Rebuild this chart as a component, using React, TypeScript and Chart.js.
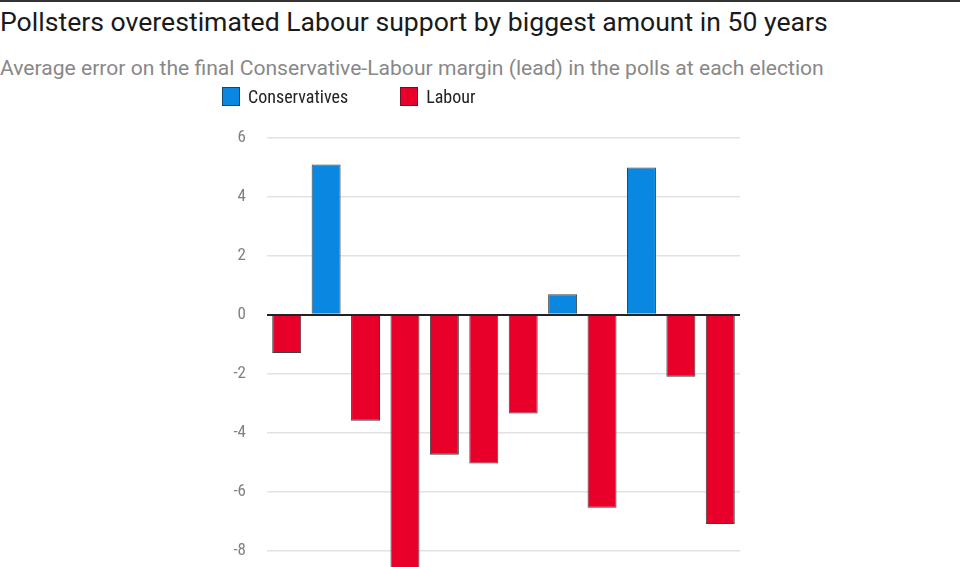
import React, { useEffect, useRef } from "react";
import { Chart, registerables } from "chart.js";

Chart.register(...registerables);

const elections = ["1979", "1983", "1987", "1992", "1997", "2001", "2005", "2010", "2015", "2017", "2019", "2024"];
const conservativeErrors: (number | null)[] = [null, 5.1, null, null, null, null, null, 0.7, null, 5.0, null, null];
const labourErrors: (number | null)[] = [-1.3, null, -3.6, -8.7, -4.75, -5.05, -3.35, null, -6.55, null, -2.1, -7.1];
const yTicks = [6, 4, 2, 0, -2, -4, -6, -8];

const BLUE = "#0a87e0";
const RED = "#e8002b";
const NARROW = '"Liberation Sans Narrow", "Roboto Condensed", Roboto, sans-serif';

export default function App() {
  const ref = useRef<HTMLCanvasElement>(null);
  useEffect(() => {
    document.body.style.margin = "0";
    const chart = new Chart(ref.current!, {
      type: "bar",
      data: {
        labels: elections,
        datasets: [
          { label: "Conservatives", data: conservativeErrors, backgroundColor: BLUE, borderColor: "rgba(30,30,30,0.85)", borderWidth: 1 },
          { label: "Labour", data: labourErrors, backgroundColor: RED, borderColor: "rgba(30,30,30,0.85)", borderWidth: 1 },
        ],
      },
      options: {
        animation: false,
        responsive: false,
        maintainAspectRatio: false,
        layout: { padding: { left: 0, right: 220, top: 138, bottom: 0 } },
        datasets: { bar: { barPercentage: 0.735, categoryPercentage: 1 } },
        plugins: { legend: { display: false }, tooltip: { enabled: false } },
        scales: {
          x: { stacked: true, display: false },
          y: {
            stacked: true,
            min: -8.56,
            max: 6,
            afterFit: (s: any) => { s.width = 267; s.paddingTop = 0; s.paddingBottom = 0; },
            afterBuildTicks: (s: any) => { s.ticks = yTicks.map((v) => ({ value: v })); },
            border: { display: false },
            grid: {
              drawTicks: false,
              color: (c: any) => (c.tick && c.tick.value === 0 ? "#222" : "#e2e2e2"),
              lineWidth: (c: any) => (c.tick && c.tick.value === 0 ? 2 : 1.5),
            },
            ticks: {
              padding: 21,
              color: "#808080",
              font: { family: NARROW, size: 17 },
              callback: (v: any) => String(v),
            },
          },
        },
      },
    });
    return () => chart.destroy();
  }, []);

  return (
    <div style={{ position: "relative", width: 960, height: 567, overflow: "hidden", background: "#fff" }}>
      <div style={{ position: "absolute", left: 0, top: 0, width: 960, height: 2, background: "#333" }} />
      <div style={{ position: "absolute", left: 0, top: 6, fontFamily: "Roboto, sans-serif", fontSize: 26.6, color: "#1a1a1a", whiteSpace: "nowrap" }}>
        Pollsters overestimated Labour support by biggest amount in 50 years
      </div>
      <div style={{ position: "absolute", left: 0, top: 55, fontFamily: "Roboto, sans-serif", fontSize: 21.1, color: "#888", whiteSpace: "nowrap" }}>
        Average error on the final Conservative-Labour margin (lead) in the polls at each election
      </div>
      <canvas ref={ref} width={960} height={567} style={{ position: "absolute", left: 0, top: 0 }} />
      <div style={{ position: "absolute", left: 222, top: 86, display: "flex", alignItems: "center", fontFamily: NARROW, fontSize: 18, color: "#222", whiteSpace: "nowrap" }}>
        <span style={{ display: "inline-block", width: 18, height: 19, background: BLUE, border: "1px solid rgba(30,30,30,0.6)", boxSizing: "border-box", marginRight: 8 }} />
        <span style={{ marginRight: 52 }}>Conservatives</span>
        <span style={{ display: "inline-block", width: 18, height: 19, background: RED, border: "1px solid rgba(30,30,30,0.6)", boxSizing: "border-box", marginRight: 8 }} />
        <span>Labour</span>
      </div>
    </div>
  );
}
